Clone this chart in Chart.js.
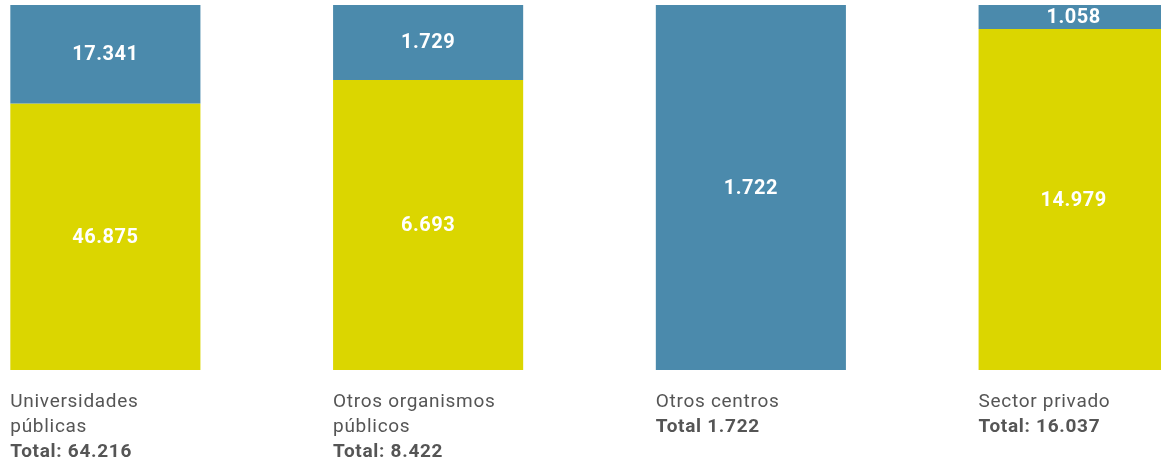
<!DOCTYPE html>
<html>
<head>
<meta charset="utf-8">
<script src="https://cdn.jsdelivr.net/npm/chart.js@4.4.1/dist/chart.umd.min.js"></script>
<style>
  html, body { margin: 0; padding: 0; background: #fff; overflow: hidden; }
  #wrap { position: absolute; left: -56px; top: 0; width: 1291px; height: 461px; }
</style>
</head>
<body>
<div id="wrap"><canvas id="sectorChart"></canvas></div>
<script>
// values
const categories = ["Universidades públicas", "Otros organismos públicos", "Otros centros", "Sector privado"];
const labelLines = [["Universidades", "públicas"], ["Otros organismos", "públicos"], ["Otros centros"], ["Sector privado"]];
const totalLabels = ["Total: 64.216", "Total: 8.422", "Total 1.722", "Total: 16.037"];
const blueValues = [17341, 1729, 1722, 1058];
const yellowValues = [46875, 6693, 0, 14979];

const blue = "#4b8aac";
const yellow = "#dbd600";
const fontFamily = "Roboto, 'DejaVu Sans', sans-serif";

const totals = blueValues.map((v, i) => v + yellowValues[i]);
const pct = (arr) => arr.map((v, i) => v / totals[i] * 100);
const fmt = (n) => n.toLocaleString("de-DE");

// write value in the middle of each segment, plus category text under each bar
const labelPlugin = {
  id: "labels",
  afterDatasetsDraw(chart) {
    const ctx = chart.ctx;
    ctx.save();
    ctx.textAlign = "center";
    ctx.textBaseline = "middle";
    ctx.fillStyle = "#fff";
    ctx.font = "bold 20px " + fontFamily;
    ctx.letterSpacing = "0.5px";
    chart.data.datasets.forEach((ds, di) => {
      chart.getDatasetMeta(di).data.forEach((bar, i) => {
        const raw = ds.raw[i];
        if (!raw) return;
        const mid = (bar.y + bar.base) / 2;
        ctx.fillText(fmt(raw), bar.x, mid + 1);
      });
    });
    const bars = chart.getDatasetMeta(0).data;
    ctx.textAlign = "left";
    ctx.textBaseline = "alphabetic";
    ctx.fillStyle = "#555";
    ctx.letterSpacing = "0.7px";
    bars.forEach((bar, i) => {
      const left = bar.x - bar.width / 2;
      let y = chart.chartArea.bottom + 37;
      ctx.font = "19px " + fontFamily;
      labelLines[i].forEach((line) => {
        ctx.fillText(line, left, y);
        y += 25;
      });
      ctx.font = "bold 19px " + fontFamily;
      ctx.fillText(totalLabels[i], left, y);
    });
    ctx.restore();
  }
};

const ctx = document.getElementById("sectorChart");
window.sectorChart = new Chart(ctx, {
  type: "bar",
  data: {
    labels: categories,
    datasets: [
      { label: "azul", data: pct(blueValues), raw: blueValues, backgroundColor: blue },
      { label: "amarillo", data: pct(yellowValues), raw: yellowValues, backgroundColor: yellow }
    ]
  },
  options: {
    responsive: true,
    maintainAspectRatio: false,
    animation: false,
    layout: { padding: { top: 5, bottom: 91, left: 0, right: 0 } },
    datasets: { bar: { categoryPercentage: 1, barPercentage: 0.589 } },
    plugins: { legend: { display: false }, tooltip: { enabled: false } },
    scales: {
      x: { stacked: true, display: false },
      y: { stacked: true, display: false, min: 0, max: 100, reverse: true }
    }
  },
  plugins: [labelPlugin]
});
</script>
</body>
</html>
